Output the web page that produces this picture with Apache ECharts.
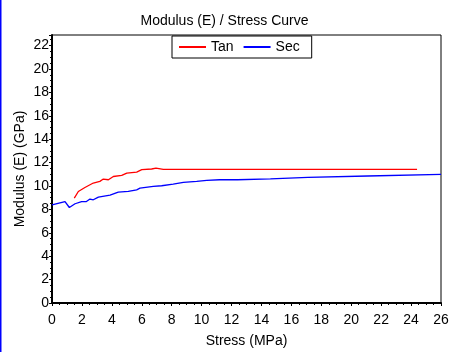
<!DOCTYPE html>
<html><head><meta charset="utf-8">
<script src="https://cdn.jsdelivr.net/npm/echarts@6/dist/echarts.min.js"></script>
<style>html,body{margin:0;padding:0;background:#fff}#c{width:449px;height:352px}</style>
</head><body><div id="c"></div>
<script>
const title = "Modulus (E) / Stress Curve";
const xName = "Stress (MPa)";
const yName = "Modulus (E) (GPa)";
const tanStress = [1.49,1.76,2.2,2.76,3.2,3.43,3.77,4.1,4.66,5.0,5.66,6.0,6.66,6.95,7.44,10,14,18,22,24.4];
const tanModulus = [8.96,9.53,9.87,10.25,10.39,10.59,10.53,10.81,10.9,11.1,11.19,11.39,11.45,11.53,11.41,11.41,11.41,11.41,11.41,11.41];
const secStress = [0,0.87,1.16,1.54,1.98,2.3,2.54,2.76,3.1,3.88,4.43,5.1,5.66,5.88,6.77,7.33,8.1,8.78,9.67,10.34,11.2,12.4,12.45,14.6,14.65,17.1,17.15,21.1,21.15,26];
const secModulus = [8.38,8.67,8.16,8.48,8.67,8.67,8.88,8.82,9.05,9.22,9.48,9.53,9.67,9.82,9.96,10.02,10.16,10.3,10.39,10.47,10.53,10.53,10.6,10.6,10.73,10.73,10.85,10.85,10.99,10.99];

const font = "Liberation Sans, Arial, sans-serif";
const chart = echarts.init(document.getElementById('c'));
chart.setOption({
  animation: false,
  backgroundColor: '#fff',
  title: {text: title, left: 'center', top: 9, textStyle: {fontFamily: font, fontSize: 14, fontWeight: 'normal', color: '#000'}},
  legend: {
    top: 36, left: 172, itemWidth: 27, itemHeight: 2, itemGap: 10,
    borderColor: '#000', borderWidth: 1, padding: [4, 12, 4, 7],
    textStyle: {fontFamily: font, fontSize: 14, color: '#000'},
    data: [{name: 'Tan', icon: 'rect'}, {name: 'Sec', icon: 'rect'}]
  },
  grid: {left: 52, right: 8, top: 35, bottom: 49, show: true, borderColor: '#000', borderWidth: 1,
         containLabel: false, outerBoundsMode: 'none'},
  xAxis: {
    type: 'value', min: 0, max: 26, interval: 2,
    name: xName, nameLocation: 'middle', nameGap: 31,
    nameTextStyle: {fontFamily: font, fontSize: 14, color: '#000'},
    axisLine: {lineStyle: {color: '#000', width: 2}},
    axisTick: {show: true, length: 3, lineStyle: {color: '#000'}},
    minorTick: {show: true, splitNumber: 4, length: 2, lineStyle: {color: '#000'}},
    axisLabel: {fontFamily: font, fontSize: 14, color: '#000', margin: 10},
    splitLine: {show: false}
  },
  yAxis: {
    type: 'value', min: 0, max: 22.9, interval: 2,
    name: yName, nameLocation: 'middle', nameGap: 25, nameMoveOverlap: false,
    nameTextStyle: {fontFamily: font, fontSize: 14, color: '#000'},
    axisLine: {lineStyle: {color: '#000', width: 2}},
    axisTick: {show: true, length: 3, lineStyle: {color: '#000'}},
    minorTick: {show: true, splitNumber: 4, length: 2, lineStyle: {color: '#000'}},
    axisLabel: {fontFamily: font, fontSize: 14, color: '#000', margin: 3,
      formatter: v => (Math.abs(v - Math.round(v)) < 1e-6 ? String(Math.round(v)) : '')},
    splitLine: {show: false}
  },
  graphic: [{type: 'rect', shape: {x: 0, y: 0, width: 1.5, height: 352}, style: {fill: '#0000ff'}}],
  series: [
    {name: 'Tan', type: 'line', showSymbol: false, symbol: 'none', color: '#ff0000', lineStyle: {width: 1.3},
     data: tanStress.map((s, i) => [s, tanModulus[i]])},
    {name: 'Sec', type: 'line', showSymbol: false, symbol: 'none', color: '#0000ff', lineStyle: {width: 1.3},
     data: secStress.map((s, i) => [s, secModulus[i]])}
  ]
});
</script></body></html>
